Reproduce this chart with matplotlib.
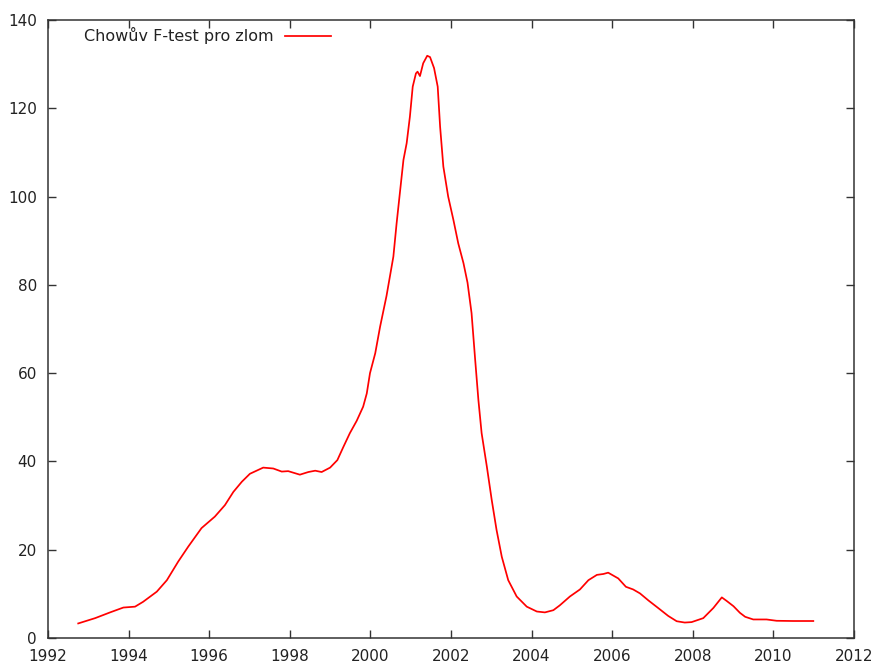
import matplotlib.pyplot as plt
import numpy as np

# Chow F-test statistic for a structural break, by candidate break date
years = [
    1992.75, 1993.17, 1993.54, 1993.87, 1994.16, 1994.36, 1994.70, 1994.95,
    1995.23, 1995.48, 1995.81, 1996.14, 1996.39, 1996.60, 1996.81, 1997.01,
    1997.34, 1997.59, 1997.80, 1997.96, 1998.25, 1998.46, 1998.63, 1998.79,
    1999.00, 1999.18, 1999.33, 1999.49, 1999.66, 1999.82, 1999.91, 1999.99,
    2000.12, 2000.24, 2000.40, 2000.57, 2000.65, 2000.73, 2000.82, 2000.90,
    2000.98, 2001.05, 2001.13, 2001.17, 2001.23, 2001.31, 2001.41, 2001.48,
    2001.58, 2001.67, 2001.73, 2001.81, 2001.93, 2002.06, 2002.18, 2002.31,
    2002.41, 2002.51, 2002.60, 2002.68, 2002.76, 2002.89, 2003.01, 2003.13,
    2003.26, 2003.42, 2003.63, 2003.88, 2004.13, 2004.33, 2004.54, 2004.70,
    2004.95, 2005.20, 2005.41, 2005.62, 2005.78, 2005.90, 2006.15, 2006.34,
    2006.52, 2006.69, 2006.90, 2007.14, 2007.39, 2007.60, 2007.80, 2007.97,
    2008.26, 2008.51, 2008.72, 2008.84, 2009.01, 2009.17, 2009.30, 2009.50,
    2009.83, 2010.08, 2010.49, 2010.99,
]
f_stat = [
    3.3, 4.5, 5.8, 6.9, 7.1, 8.2, 10.5, 13.1,
    17.3, 20.7, 24.9, 27.5, 30.1, 33.1, 35.4, 37.2,
    38.6, 38.4, 37.7, 37.8, 37.0, 37.6, 37.9, 37.6,
    38.6, 40.3, 43.3, 46.4, 49.2, 52.4, 55.4, 60.0,
    64.5, 70.5, 77.5, 86.4, 93.9, 100.7, 108.3, 112.1,
    118.1, 124.9, 127.9, 128.3, 127.3, 130.2, 131.9, 131.6,
    129.1, 124.9, 115.8, 106.8, 100.0, 94.7, 89.4, 84.9,
    80.5, 73.6, 63.0, 53.9, 46.4, 38.8, 31.3, 24.5,
    18.4, 13.1, 9.4, 7.1, 6.0, 5.8, 6.3, 7.4,
    9.4, 11.0, 13.1, 14.3, 14.5, 14.8, 13.5, 11.6,
    11.0, 10.1, 8.5, 6.8, 5.0, 3.8, 3.5, 3.6,
    4.5, 6.8, 9.2, 8.4, 7.2, 5.7, 4.8, 4.2,
    4.2, 3.9, 3.85, 3.85,
]
label = 'Chowův F-test pro zlom'

text_color = '#222222'
frame_color = '#333333'

fig = plt.figure(figsize=(8.77, 6.64), dpi=100)
ax = fig.add_axes([48 / 877, 26 / 664, 806 / 877, 618 / 664])

ax.plot(years, f_stat, color='#ff0000', linewidth=1.25, label=label)

ax.set_xlim(1992, 2012)
ax.set_ylim(0, 140)
ax.set_xticks(np.arange(1992, 2013, 2))
ax.set_yticks(np.arange(0, 141, 20))

# gnuplot-like frame: inward ticks mirrored on all sides
ax.tick_params(direction='in', length=6, width=1, color=frame_color,
               top=True, right=True, labelsize=11, labelcolor=text_color, pad=8)
for s in ax.spines.values():
    s.set_color(frame_color)
    s.set_linewidth(1.1)

leg = ax.legend(loc='upper left', bbox_to_anchor=(0.031, 1.006), frameon=False,
                markerfirst=False, handlelength=2.9, handletextpad=0.7,
                fontsize=11.5, borderaxespad=0.3)
for t in leg.get_texts():
    t.set_color(text_color)

fig.savefig('out.png', dpi=100)
